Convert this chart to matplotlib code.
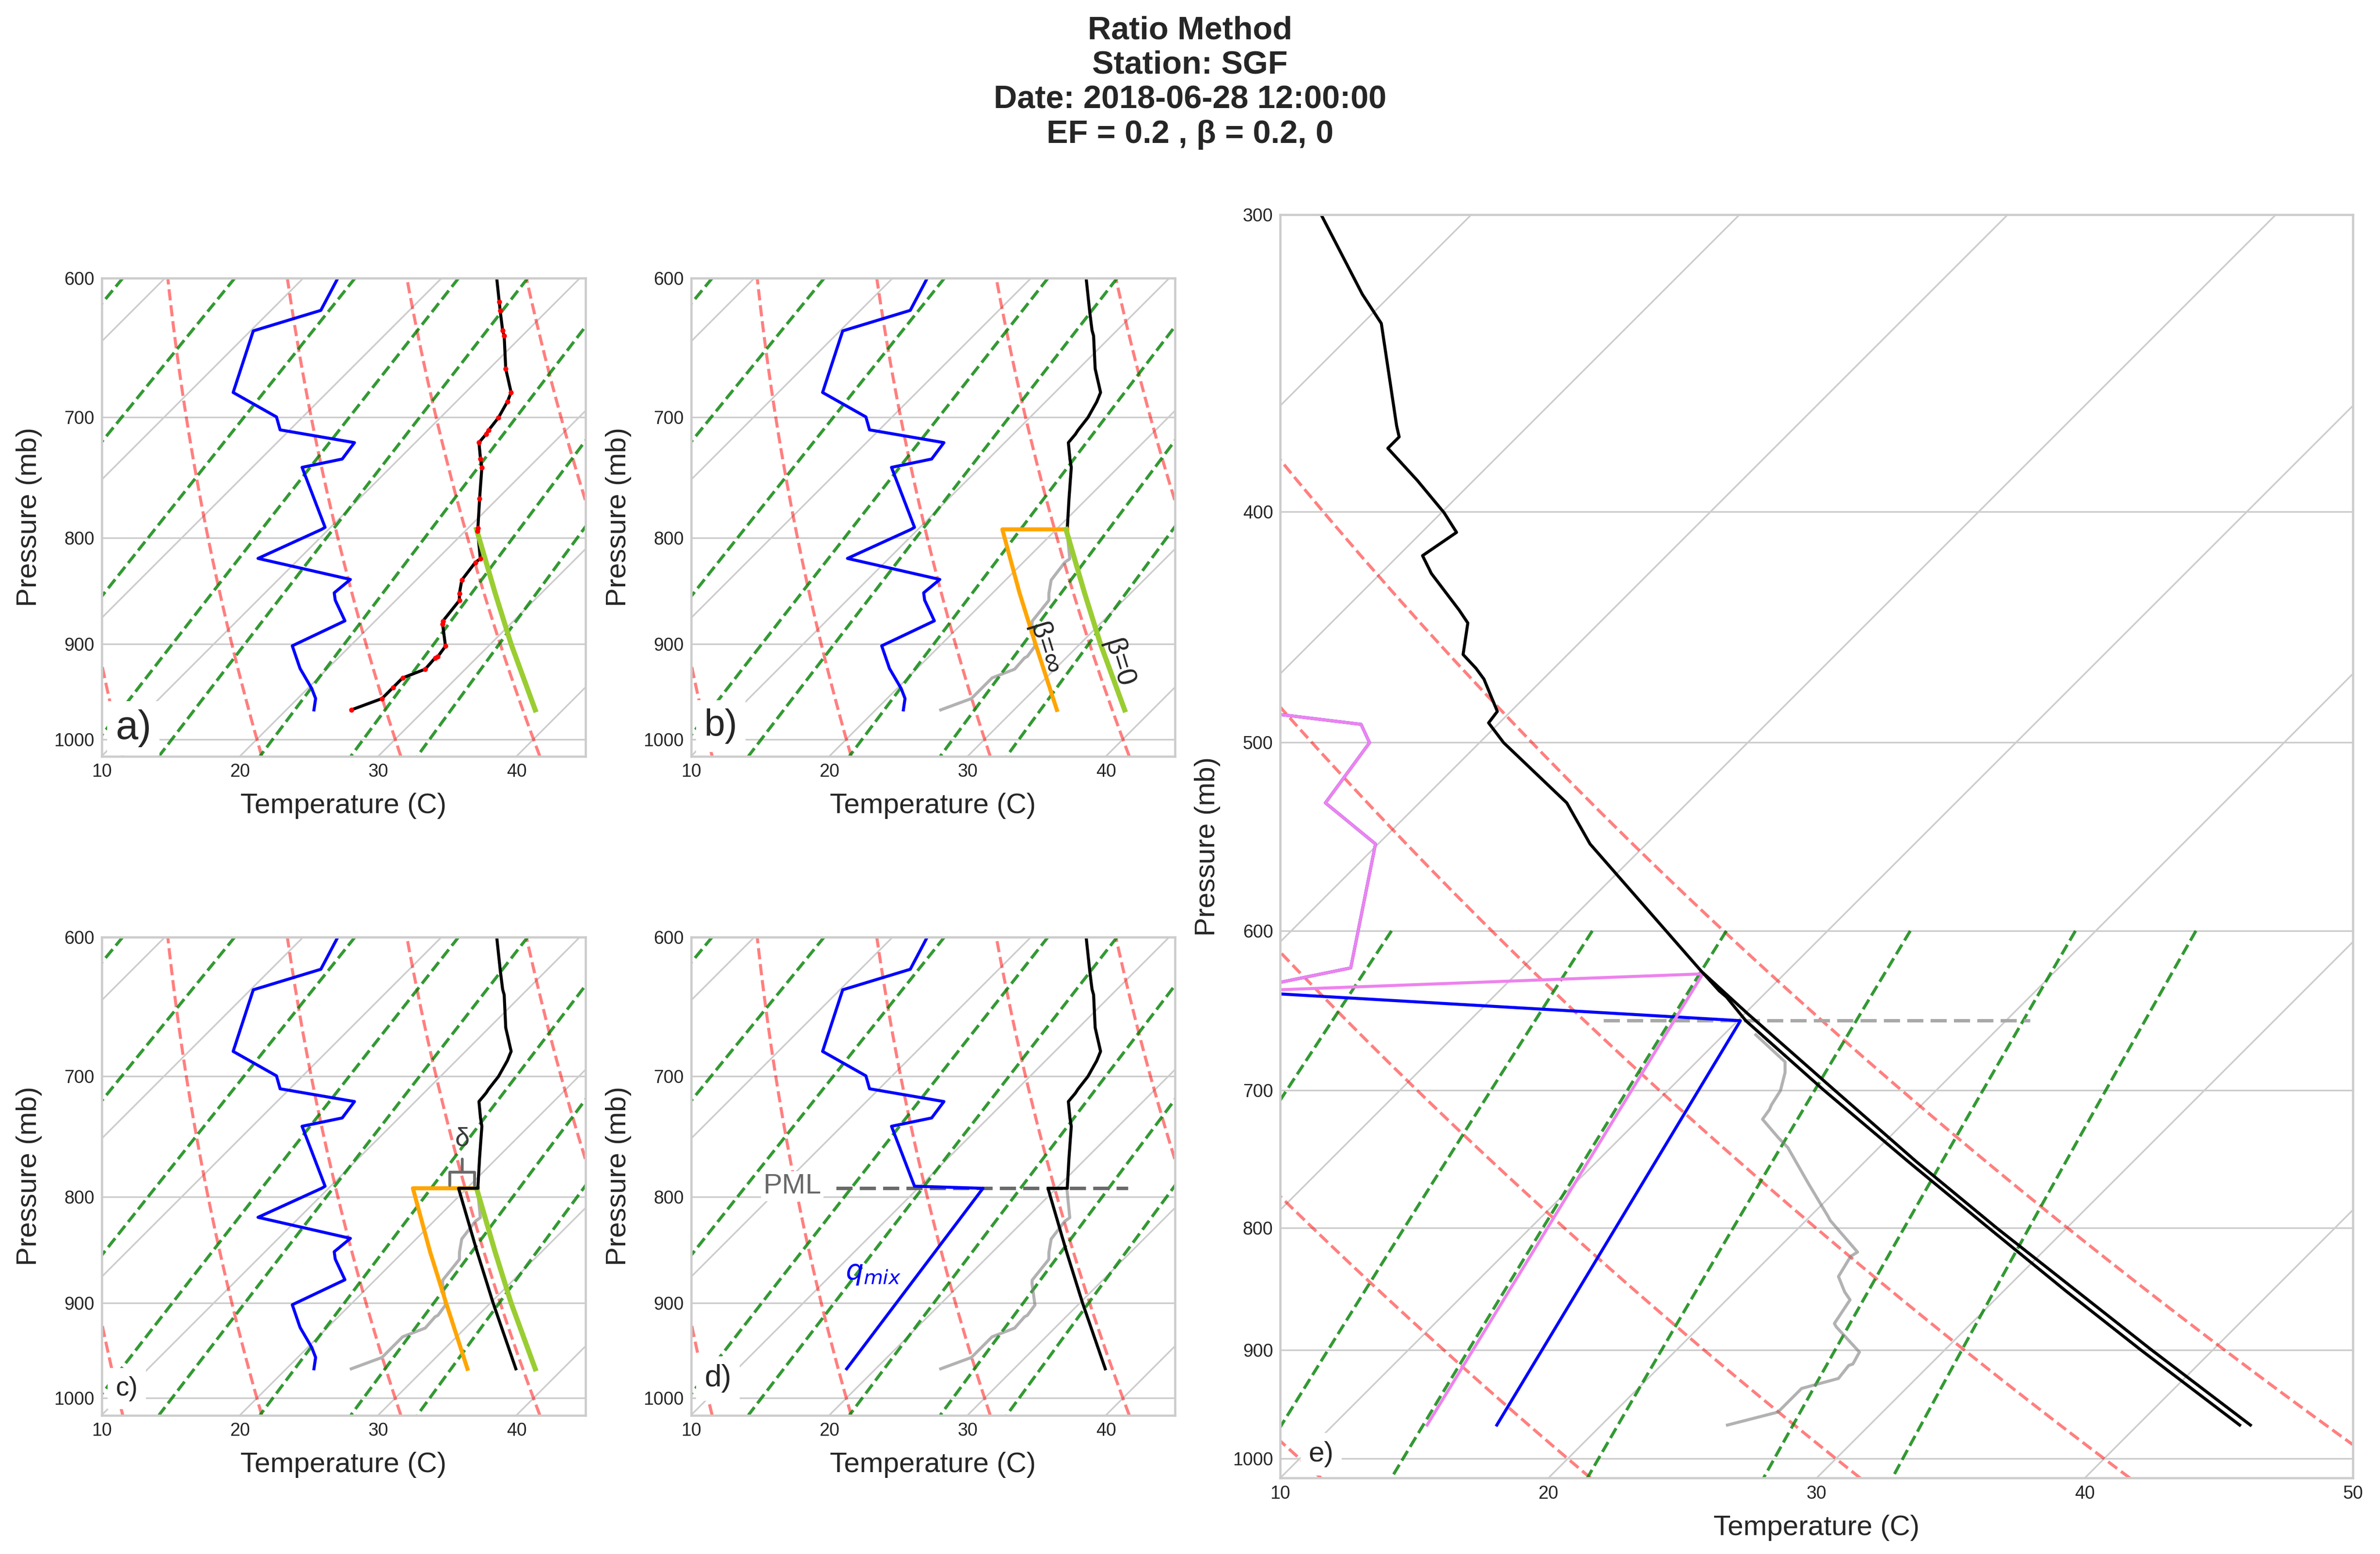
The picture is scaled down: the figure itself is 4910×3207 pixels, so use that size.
import numpy as np
import matplotlib
matplotlib.use("Agg")
import matplotlib.pyplot as plt
from matplotlib.transforms import Affine2D
from matplotlib.collections import LineCollection
from matplotlib.ticker import FixedLocator, NullLocator, FormatStrFormatter, MultipleLocator

# ---------------------------------------------------------------- style
plt.rcParams['font.family'] = ['Liberation Sans', 'DejaVu Sans']
for key in ['text.color', 'axes.labelcolor', 'xtick.color', 'ytick.color']:
    plt.rcParams[key] = '.15'
plt.rcParams['axes.edgecolor'] = '.8'
plt.rcParams['axes.linewidth'] = 1.1
plt.rcParams['grid.color'] = '.8'
plt.rcParams['grid.linewidth'] = 0.8
for key in ['xtick.major.size', 'ytick.major.size', 'xtick.minor.size', 'ytick.minor.size']:
    plt.rcParams[key] = 0
plt.rcParams['xtick.labelsize'] = 9
plt.rcParams['ytick.labelsize'] = 9
plt.rcParams['axes.labelsize'] = 14
plt.rcParams['axes.labelpad'] = 6

# ---------------------------------------------------------------- data
title_text = "Ratio Method\nStation: SGF\nDate: 2018-06-28 12:00:00\nEF = 0.2 , \u03b2 = 0.2, 0"

# observed sounding: temperature (degC) at pressure (hPa)
p_obs = np.array([968.0, 955.9, 944.3, 934.3, 925.3, 913.8, 912.4, 902.0, 880.3, 877.4,
                  857.5, 850.9, 838.4, 822.1, 818.8, 794.1, 791.4, 766.1, 740.0, 733.2,
                  720.0, 713.3, 710.2, 700.3, 688.2, 681.1, 663.5, 639.7, 635.9, 622.2,
                  616.2, 551.6, 530.1, 500.1, 490.6, 485.2, 470.3, 465.4, 459.2, 445.4,
                  439.9, 424.6, 417.3, 408.0, 400.3, 388.0, 376.1, 372.0, 368.1, 333.3,
                  324.0, 300.0])
t_obs = np.array([24.7, 26.1, 26.1, 26.1, 27.1, 27.0, 27.1, 26.9, 25.1, 24.9,
                  24.6, 24.1, 23.3, 23.0, 23.1, 20.9, 20.7, 18.7, 16.6, 15.9,
                  14.6, 14.5, 14.4, 14.2, 13.7, 13.3, 11.2, 8.7, 8.2, 6.6,
                  5.9, -2.1, -4.5, -9.1, -10.4, -10.5, -12.2, -12.9, -13.9, -14.9,
                  -15.7, -18.1, -19.1, -18.7, -19.9, -22.1, -24.4, -24.4, -24.9, -29.3,
                  -31.1, -35.6])

# observed dewpoint (degC) at pressure (hPa)
p_td = np.array([968.0, 955.9, 945.4, 924.6, 901.7, 877.1, 857.2, 850.3, 837.8, 818.5,
                 792.6, 790.8, 740.0, 733.2, 720.0, 709.9, 699.8, 681.1, 636.2, 621.9,
                 551.6, 530.1, 500.1, 491.3, 482.0])
td_obs = np.array([22.0, 21.3, 20.3, 18.0, 15.8, 17.8, 15.6, 15.0, 15.2, 7.0,
                   9.5, 9.6, 3.6, 5.9, 5.6, -0.7, -1.9, -6.8, -9.8, -6.4,
                   -10.1, -13.5, -14.1, -15.1, -21.9])

# mixed-layer top (panels a-d) and temperature of sounding there
pml_ad = 792.6
t_pml_ad = 20.8
# mixed-layer top (panel e)
pml_e = 654.5
td_top_e = 636.2

# mixed-layer profiles, panels a-d
p_ml = np.array([968.0, 900.0, 850.0, 792.6])
t_beta0 = np.array([38.0, 31.5, 26.6, 20.7])            # beta = 0   (green)
p_ml_jump = np.array([968.0, 900.0, 850.0, 792.6, 792.6])
t_betainf = np.array([33.1, 26.8, 21.9, 16.1, 20.8])    # beta = inf (orange)
t_beta02 = np.array([36.6, 30.2, 25.3, 19.4, 20.8])     # beta = 0.2 (black)

# mixed dewpoint, panel d
p_qmix_d = np.array([968.0, 792.6])
td_qmix_d = np.array([17.9, 14.7])

# panel e: two mixed-layer temperature profiles
p_e_a = np.array([968.0, 900.0, 850.0, 800.0, 750.0, 700.0, 650.0, 625.5])
t_e_a = np.array([44.2, 37.7, 32.7, 27.4, 21.9, 16.2, 10.1, 7.0])
p_e_b = np.array([968.0, 900.0, 850.0, 800.0, 750.0, 700.0, 654.5])
t_e_b = np.array([43.8, 37.3, 32.3, 27.1, 21.6, 15.8, 10.3])
# panel e: mixed dewpoints
p_qmix_e_blue = np.array([968.0, 654.5])
td_qmix_e_blue = np.array([16.1, 10.1])
p_qmix_e_violet = np.array([968.0, 625.5])
td_qmix_e_violet = np.array([13.5, 6.95])

# PML dashed markers
pml_d_T = np.array([4.1, 25.2])
pml_e_T = np.array([5.0, 20.9])

# background reference lines
isotherms = np.arange(-120, 61, 10)
dry_theta = np.arange(-40, 51, 10)          # potential temperature (degC at 1000 hPa)
mix_ratios = np.array([0.0004, 0.001, 0.002, 0.004, 0.007, 0.01, 0.016, 0.024, 0.032])

# ---------------------------------------------------------------- figure
FIG_W, FIG_H, DPI = 4910, 3207, 300
fig = plt.figure(figsize=(FIG_W / DPI, FIG_H / DPI), dpi=DPI)


def px_rect(left, top, width, height):
    return [left / FIG_W, 1 - (top + height) / FIG_H, width / FIG_W, height / FIG_H]


P_BOT = 1019.0
LW = 1.5
BG_LW = 1.5


def make_skew(rect, xlim, ptop, yticks):
    ax = fig.add_axes(rect)
    ax.set_yscale('log')
    ax.set_xlim(*xlim)
    ax.set_ylim(P_BOT, ptop)
    ax.set_axisbelow(True)
    k = (rect[3] * FIG_H) / (rect[2] * FIG_W)
    tr = ax.transScale + ax.transLimits + Affine2D().skew(np.arctan(k), 0) + ax.transAxes
    ax.yaxis.set_major_locator(FixedLocator(yticks))
    ax.yaxis.set_minor_locator(NullLocator())
    ax.yaxis.set_major_formatter(FormatStrFormatter('%d'))
    ax.xaxis.set_major_locator(MultipleLocator(10))
    ax.xaxis.set_minor_locator(NullLocator())
    ax.yaxis.grid(True)
    ax.xaxis.grid(False)
    ax.set_xlabel('Temperature (C)')
    ax.set_ylabel('Pressure (mb)')
    # isotherms (skewed grid)
    for t in isotherms:
        ax.plot([t, t], [P_BOT, ptop], color='.8', lw=0.8, transform=tr, zorder=0.8)
    # dry adiabats
    pp = np.linspace(P_BOT, ptop, 50)
    segs = [np.column_stack([(th + 273.15) * (pp / 1000.0) ** 0.2857 - 273.15, pp])
            for th in dry_theta]
    ax.add_collection(LineCollection(segs, colors='r', linestyles='dashed', alpha=0.5,
                                     linewidths=BG_LW, transform=tr, zorder=1))
    # mixing ratio lines
    pm = np.linspace(600, P_BOT, 50)
    segs = []
    for w in mix_ratios:
        e = pm * w / (0.6219569 + w)
        lg = np.log(e / 6.112)
        segs.append(np.column_stack([243.5 * lg / (17.67 - lg), pm]))
    ax.add_collection(LineCollection(segs, colors='g', linestyles='dashed', alpha=0.8,
                                     linewidths=BG_LW, transform=tr, zorder=1))
    return ax, tr


def panel_label(ax, s, x, y, fs):
    ax.text(x, y, s, transform=ax.transAxes, fontsize=fs, ha='left', va='bottom',
            bbox=dict(facecolor='white', edgecolor='none'), zorder=5)


W_S, H_S = 998.6, 987.0
rect_a = px_rect(209.6, 573.7, W_S, H_S)
rect_b = px_rect(1425.6, 573.7, W_S, H_S)
rect_c = px_rect(209.6, 1933.5, W_S, H_S)
rect_d = px_rect(1425.6, 1933.5, W_S, H_S)
rect_e = px_rect(2641.0, 443.0, 2213.0, 2607.4)

small_ticks = [600, 700, 800, 900, 1000]
big_ticks = [300, 400, 500, 600, 700, 800, 900, 1000]

below_ad = p_obs > pml_ad
above_ad = p_obs < pml_ad
GREEN_LW = 2.5
ORANGE_LW = 2.0

# ---- panel a
ax, tr = make_skew(rect_a, (10, 45), 600, small_ticks)
ax.plot(td_obs, p_td, color='blue', lw=LW, transform=tr, zorder=2)
ax.plot(t_obs, p_obs, color='black', lw=LW, transform=tr, zorder=2)
ax.plot(t_obs, p_obs, ls='none', marker='o', ms=2.5, mew=0, color='red', transform=tr, zorder=3)
ax.plot(t_beta0, p_ml, color='yellowgreen', lw=GREEN_LW, transform=tr, zorder=2)
panel_label(ax, 'a)', 0.0286, 0.019, 20)

# ---- panel b
ax, tr = make_skew(rect_b, (10, 45), 600, small_ticks)
ax.plot(td_obs, p_td, color='blue', lw=LW, transform=tr, zorder=2)
ax.plot(t_obs[below_ad], p_obs[below_ad], color='gray', alpha=0.6, lw=LW, transform=tr, zorder=2)
ax.plot(np.r_[t_pml_ad, t_obs[above_ad]], np.r_[pml_ad, p_obs[above_ad]],
        color='black', lw=LW, transform=tr, zorder=2)
ax.plot(t_betainf, p_ml_jump, color='orange', lw=ORANGE_LW, transform=tr, zorder=2)
ax.plot(t_beta0, p_ml, color='yellowgreen', lw=GREEN_LW, transform=tr, zorder=2)
ax.text(27.8, 905.0, '\u03b2=\u221e', transform=tr, rotation=-73, fontsize=14,
        ha='center', va='center', zorder=4)
ax.text(34.2, 919.5, '\u03b2=0', transform=tr, rotation=-73, fontsize=14,
        ha='center', va='center', zorder=4)
panel_label(ax, 'b)', 0.027, 0.026, 18.5)

# ---- panel c
ax, tr = make_skew(rect_c, (10, 45), 600, small_ticks)
ax.plot(td_obs, p_td, color='blue', lw=LW, transform=tr, zorder=2)
ax.plot(t_obs[below_ad], p_obs[below_ad], color='gray', alpha=0.6, lw=LW, transform=tr, zorder=2)
ax.plot(t_betainf, p_ml_jump, color='orange', lw=ORANGE_LW, transform=tr, zorder=2)
ax.plot(t_beta0, p_ml, color='yellowgreen', lw=GREEN_LW, transform=tr, zorder=2)
ax.plot(np.r_[t_beta02, t_obs[above_ad]], np.r_[p_ml_jump, p_obs[above_ad]],
        color='black', lw=LW, transform=tr, zorder=2.5)
ax.annotate('\u03b4', xy=(18.5, 778.6), xycoords=tr, xytext=(16.1, 750.4), textcoords=tr,
            fontsize=13, color='#3a3a3a', ha='center', va='center',
            arrowprops=dict(arrowstyle='-[, widthB=0.307, lengthB=0.33', mutation_scale=20,
                            color='dimgray', lw=1.4, shrinkB=0))
panel_label(ax, 'c)', 0.029, 0.029, 13.2)

# ---- panel d
ax, tr = make_skew(rect_d, (10, 45), 600, small_ticks)
ax.plot(t_obs[below_ad], p_obs[below_ad], color='gray', alpha=0.6, lw=LW, transform=tr, zorder=2)
ax.plot(pml_d_T, [pml_ad, pml_ad], color='dimgray', lw=1.7, dashes=(4.7, 2.1), transform=tr, zorder=2)
ax.plot(np.r_[td_qmix_d, td_obs[p_td < pml_ad]], np.r_[p_qmix_d, p_td[p_td < pml_ad]],
        color='blue', lw=LW, transform=tr, zorder=2.5)
ax.plot(np.r_[t_beta02, t_obs[above_ad]], np.r_[p_ml_jump, p_obs[above_ad]],
        color='black', lw=LW, transform=tr, zorder=2.5)
ax.text(1.3, 797.3, 'PML', transform=tr, fontsize=14, color='dimgray', ha='center',
        va='baseline', bbox=dict(facecolor='white', edgecolor='none', pad=1), zorder=4)
ax.text(12.9, 870.9, r'$q_{mix}$', transform=tr, fontsize=14, color='blue',
        ha='center', va='center', zorder=4)
panel_label(ax, 'd)', 0.0277, 0.0467, 15)

# ---- panel e
ax, tr = make_skew(rect_e, (10, 50), 300, big_ticks)
below_e = p_obs > pml_e
above_e = p_obs < pml_e
upper_td = p_td <= td_top_e
ax.plot(t_obs[below_e], p_obs[below_e], color='gray', alpha=0.6, lw=LW, transform=tr, zorder=2)
ax.plot(pml_e_T, [pml_e, pml_e], color='darkgray', lw=1.7, dashes=(4.7, 2.1), transform=tr, zorder=2)
ax.plot(np.r_[td_qmix_e_blue, td_obs[upper_td]], np.r_[p_qmix_e_blue, p_td[upper_td]],
        color='blue', lw=LW, transform=tr, zorder=2.2)
ax.plot(np.r_[td_qmix_e_violet, td_obs[upper_td]], np.r_[p_qmix_e_violet, p_td[upper_td]],
        color='violet', lw=LW, transform=tr, zorder=2.4)
ax.plot(t_e_a, p_e_a, color='black', lw=LW, transform=tr, zorder=2.5)
ax.plot(np.r_[t_e_b, t_obs[above_e]], np.r_[p_e_b, p_obs[above_e]],
        color='black', lw=LW, transform=tr, zorder=2.5)
panel_label(ax, 'e)', 0.0264, 0.0085, 14)

# ---- title
fig.text(0.5, 0.990, title_text, ha='center', va='top', fontsize=16, fontweight='bold')

fig.savefig('out.png', dpi=DPI)
